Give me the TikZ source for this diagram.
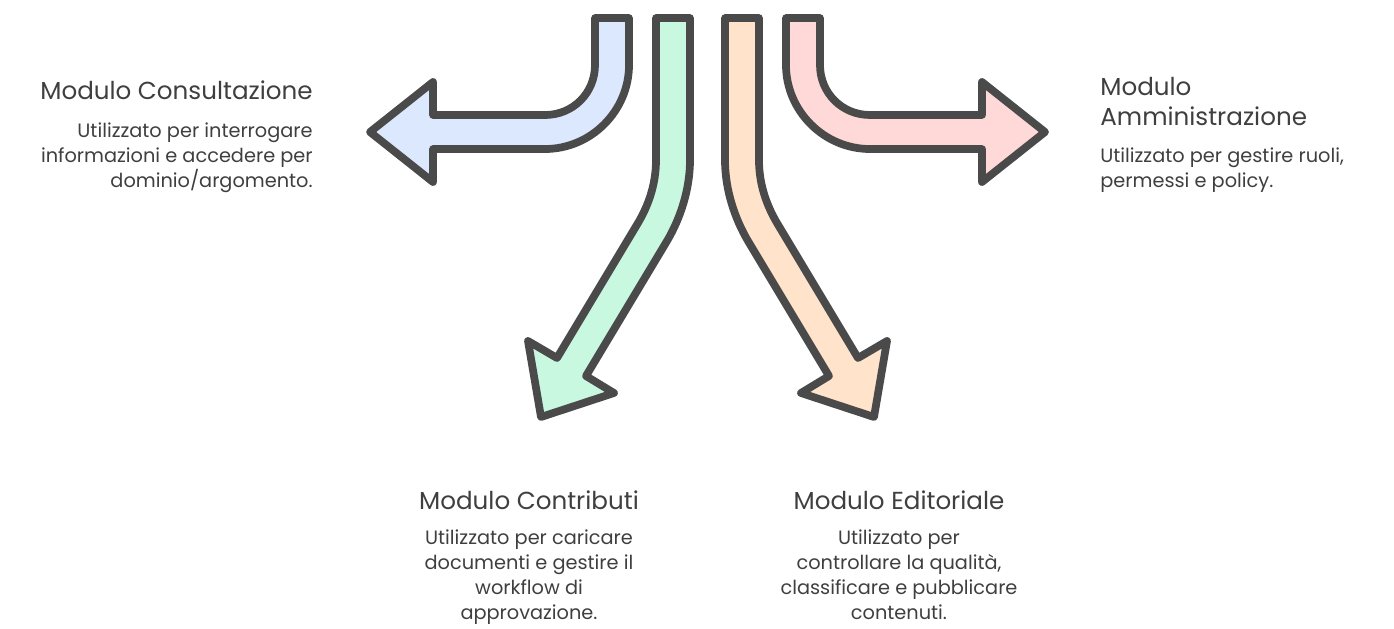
\documentclass[tikz,border=0pt]{standalone}
\usepackage{fontspec}
\setmainfont{Poppins}
\usetikzlibrary{positioning}

\definecolor{outline}{HTML}{4A4A4A}
\definecolor{textgray}{HTML}{3F3F3F}
\definecolor{consultblue}{HTML}{DCE8FD}
\definecolor{contribgreen}{HTML}{C9F8E1}
\definecolor{editorange}{HTML}{FFE3CB}
\definecolor{adminpink}{HTML}{FFD8D8}

\tikzset{
  bigarrow/.style={draw=outline, line width=4.4pt, line join=round},
  title/.style={text=textgray, inner sep=0pt, font=\fontsize{14}{17}\selectfont},
  desc/.style={text=textgray, inner sep=0pt, font=\fontsize{11}{14.2}\selectfont}
}

\begin{document}
\begin{tikzpicture}[x=0.02cm, y=-0.02cm]
        \useasboundingbox (0,0) rectangle (1394,629);
        % blue arrow, to the left
        \filldraw [bigarrow, fill=consultblue] (595,18) -- (629,18) -- (629,65)
          .. controls (629,111) and (591,149) .. (545,149) -- (433,149) -- (433,182)
          -- (370,132) -- (433,82) -- (433,115) -- (545,115)
          .. controls (573,115) and (595,93) .. (595,65) -- cycle;
        % green arrow, down left
        \filldraw [bigarrow, fill=contribgreen] (656,18) -- (690,18) -- (690,160)
          .. controls (690,190) and (680,219) .. (667,241) -- (586,376) -- (614,393)
          -- (541,417) -- (528,341) -- (557,358) -- (638,223)
          .. controls (648,206) and (656,185) .. (656,160) -- cycle;
        % orange arrow, down right
        \filldraw [bigarrow, fill=editorange] (759,18) -- (725,18) -- (725,160)
          .. controls (725,190) and (735,219) .. (748,241) -- (829,376) -- (801,393)
          -- (874,417) -- (887,341) -- (858,358) -- (777,223)
          .. controls (767,206) and (759,185) .. (759,160) -- cycle;
        % pink arrow, to the right
        \filldraw [bigarrow, fill=adminpink] (820,18) -- (786,18) -- (786,65)
          .. controls (786,111) and (824,149) .. (870,149) -- (982,149) -- (982,182)
          -- (1045,132) -- (982,82) -- (982,115) -- (870,115)
          .. controls (842,115) and (820,93) .. (820,65) -- cycle;

        \node [title, anchor=east] (consult) at (313,90) {Modulo Consultazione};
        \node [desc, align=right, below left=13pt and 0pt of consult.south east] (consultdesc)
          {Utilizzato per interrogare\\informazioni e accedere per\\dominio/argomento.};
        \node [title, align=left, anchor=north west] (admin) at (1100,77) {Modulo\\Amministrazione};
        \node [desc, align=left, below right=12pt and 0pt of admin.south west] (admindesc)
          {Utilizzato per gestire ruoli,\\permessi e policy.};
        \node [title] (contrib) at (529,500) {Modulo Contributi};
        \node [desc, align=center, below=11pt of contrib] (contribdesc)
          {Utilizzato per caricare\\documenti e gestire il\\workflow di\\approvazione.};
        \node [title] (edit) at (899,500) {Modulo Editoriale};
        \node [desc, align=center, below=11pt of edit] (editdesc)
          {Utilizzato per\\controllare la qualità,\\classificare e pubblicare\\contenuti.};
\end{tikzpicture}
\end{document}
